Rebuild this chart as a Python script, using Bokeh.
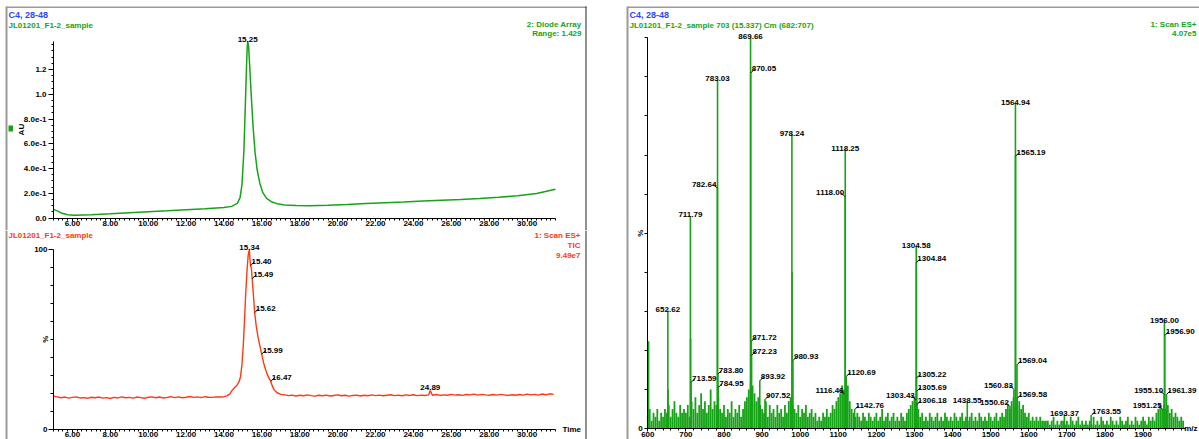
import numpy as np
from bokeh.plotting import figure
from bokeh.layouts import row, column
from bokeh.models import (Range1d, FixedTicker, NumeralTickFormatter, Label,
                          BoxAnnotation)
from bokeh.core.properties import value
from bokeh.embed import file_html
from bokeh.resources import INLINE

# ------------------------------------------------------------------ data
# Diode-array trace (AU), sample JL01201_F1-2
uv_time = [5.00, 5.20, 5.45, 5.75, 6.10, 7.00, 8.00, 9.00, 10.00, 11.00, 12.00,
           13.00, 14.00, 14.40, 14.70, 14.85, 14.95, 15.05, 15.12, 15.18, 15.22,
           15.25, 15.30, 15.37, 15.45, 15.54, 15.64, 15.75, 15.90, 16.05, 16.25,
           16.50, 16.80, 17.20, 17.80, 18.50, 19.50, 20.50, 21.50, 22.50, 23.50,
           24.50, 25.50, 26.50, 27.50, 28.50, 29.50, 30.50, 31.50]
uv_au = [0.070, 0.058, 0.038, 0.026, 0.022, 0.027, 0.034, 0.043, 0.051, 0.058, 0.066,
         0.074, 0.084, 0.094, 0.118, 0.165, 0.270, 0.540, 0.880, 1.180, 1.360,
         1.429, 1.385, 1.190, 0.960, 0.730, 0.530, 0.390, 0.275, 0.205, 0.158,
         0.132, 0.116, 0.106, 0.101, 0.100, 0.104, 0.110, 0.117, 0.124, 0.130,
         0.137, 0.144, 0.150, 0.158, 0.167, 0.180, 0.198, 0.232]
uv_range = 1.429
uv_tick_values = [0.0, 0.2, 0.4, 0.6, 0.8, 1.0, 1.2]
uv_tick_labels = ["0.0", "2.0e-1", "4.0e-1", "6.0e-1", "8.0e-1", "1.0", "1.2"]

# Total ion current (% of 9.49e7), ES+ scan
tic_scan_start = 5.0
tic_scan_step = 0.2
tic_pre = [18.3, 17.9, 17.4, 17.8, 17.2, 17.6, 17.9, 17.3, 17.5, 17.1,
           17.7, 17.4, 17.8, 17.2, 17.5, 17.0, 17.6, 17.3, 17.9, 17.4,
           17.6, 17.2, 17.8, 17.5, 17.1, 17.7, 17.9, 17.4, 17.8, 17.3,
           17.6, 18.0, 17.5, 17.9, 17.4, 17.7, 18.1, 17.6, 17.9, 17.5,
           18.0, 17.7, 17.6, 17.9, 17.8]
tic_peak_time = [14.00, 14.15, 14.30, 14.43, 14.55, 14.70, 14.80, 14.87, 14.95,
                 15.02, 15.08, 15.15, 15.22, 15.28, 15.34, 15.37, 15.40, 15.44,
                 15.49, 15.55, 15.62, 15.70, 15.80, 15.90, 15.99, 16.10, 16.20,
                 16.30, 16.40, 16.47, 16.55, 16.65, 16.80, 17.00]
tic_peak_pct = [18.0, 18.5, 19.4, 21.5, 23.0, 24.5, 26.5, 29.0, 36.0,
                47.0, 60.0, 76.0, 89.0, 97.0, 100.0, 95.0, 91.0, 90.0,
                83.7, 75.0, 64.8, 57.5, 51.0, 46.0, 41.7, 36.5, 33.0,
                30.0, 27.8, 26.5, 24.0, 21.8, 20.2, 19.3]
tic_post_start = 17.2
tic_post = [19.0, 18.6, 18.9, 18.4, 18.8, 18.5, 19.0, 18.6, 18.3, 18.8,
            18.5, 18.9, 18.4, 18.7, 19.0, 18.5, 18.8, 18.3, 18.7, 18.9,
            18.4, 18.8, 18.5, 19.0, 18.6, 18.9, 18.5, 18.8, 19.1, 18.6,
            18.9, 18.5, 19.0, 18.7, 19.1, 18.6, 18.9, 18.7, 19.0, 18.8,
            19.2, 18.7, 19.0, 18.8, 19.3, 18.9, 19.1, 18.7, 19.2, 19.0,
            19.4, 18.9, 19.3, 19.0, 18.8, 19.2, 18.9, 19.3, 19.0, 18.7,
            19.1, 18.8, 19.2, 18.9, 19.4, 19.0, 19.3, 18.9, 19.5, 19.1,
            19.6, 19.3]
tic_spike_time = [24.89]
tic_spike_pct = [21.5]
tic_top_labels = [15.34, 24.89]
tic_side_labels = [15.40, 15.49, 15.62, 15.99, 16.47]

time_ticks = [6, 8, 10, 12, 14, 16, 18, 20, 22, 24, 26, 28, 30]

# Combined mass spectrum, scans 682:707 (% of 4.07e5)
ms_noise_start = 600
ms_noise_step = 5
ms_noise = [3, 5, 2, 4, 3, 5, 2, 4, 3, 5,
            4, 6, 3, 5, 7, 4, 3, 6, 4, 5,
            4, 6, 3, 7, 5, 8, 4, 6, 9, 5,
            7, 4, 6, 10, 5, 7, 6, 8, 5, 4,
            6, 3, 5, 4, 7, 3, 5, 4, 6, 3,
            5, 7, 8, 10, 12, 11, 9, 7, 8, 6,
            5, 4, 7, 3, 6, 4, 5, 3, 6, 4,
            5, 3, 6, 4, 7, 8, 6, 5, 4, 6,
            3, 5, 4, 6, 3, 4, 5, 3, 4, 2,
            3, 2, 4, 3, 5, 3, 4, 6, 5, 7,
            8, 9, 11, 10, 9, 11, 7, 5, 4, 3,
            4, 3, 2, 4, 3, 2, 4, 3, 2, 3,
            4, 2, 3, 5, 2, 3, 4, 2, 3, 4,
            2, 3, 2, 4, 3, 2, 4, 5, 6, 7,
            8, 7, 5, 3, 4, 2, 3, 2, 4, 3,
            2, 3, 4, 2, 3, 2, 4, 3, 2, 3,
            2, 4, 3, 2, 3, 4, 2, 3, 2, 3,
            4, 2, 3, 2, 4, 3, 2, 3, 2, 4,
            3, 2, 3, 4, 2, 3, 4, 3, 5, 6,
            5, 7, 8, 7, 6, 7, 5, 6, 4, 3,
            4, 2, 3, 2, 3, 2, 3, 2, 2, 2,
            2, 1, 2, 3, 1, 2, 1, 2, 2, 1,
            2, 1, 3, 2, 1, 2, 3, 1, 2, 1,
            2, 1, 2, 1, 3, 1, 2, 1, 3, 2,
            1, 2, 1, 3, 2, 1, 2, 1, 3, 2,
            1, 2, 3, 1, 2, 1, 3, 2, 1, 2,
            3, 2, 1, 3, 2, 3, 2, 4, 5, 6,
            5, 6, 5, 6, 4, 5, 3, 4, 3, 2,
            3, 2]
ms_iso_mz = [602.0, 653.1, 712.3, 978.74]
ms_iso_pct = [22.3, 10.0, 23.0, 40.0]
ms_top_mz = [652.62, 711.79, 783.03, 869.66, 978.24, 1118.25, 1304.58,
             1564.94, 1956.00, 1438.55, 1693.37]
ms_top_pct = [30.2, 54.4, 89.2, 100.0, 75.3, 71.5, 46.5, 83.2, 27.4, 6.9, 3.6]
ms_right_mz = [870.05, 871.72, 872.23, 893.92, 907.52, 783.80, 784.95, 713.59,
               980.93, 1120.69, 1142.76, 1304.84, 1305.22, 1305.69, 1306.18,
               1565.19, 1569.04, 1569.58, 1763.55, 1956.90, 1961.39]
ms_right_pct = [91.0, 22.3, 18.7, 12.2, 7.4, 13.9, 10.5, 11.8,
                17.4, 13.3, 4.8, 42.4, 12.9, 9.5, 6.1,
                69.7, 16.3, 7.7, 3.3, 23.8, 8.7]
ms_left_mz = [782.64, 1118.00, 1116.46, 1303.43, 1560.83, 1550.62, 1955.10, 1951.25]
ms_left_pct = [61.5, 59.3, 8.8, 7.4, 10.0, 5.6, 8.7, 4.9]
mz_ticks = [600, 700, 800, 900, 1000, 1100, 1200, 1300, 1400, 1500, 1600,
            1700, 1800, 1900]

# ------------------------------------------------------------------ style
FONT = "Liberation Sans"
GREEN = "#17a317"
RED = "#ff3a12"
BLUE = "#2a48ff"
PANEL_GREY = "#9a9a9a"
TXT = dict(text_font=value(FONT), text_font_size="8px", text_font_style="bold",
           text_color="black")

# page geometry (pixels); each figure's frame fills its whole canvas and the
# axes are pinned inside it with fixed_location
LEFT_W, UV_H, TIC_H = 590, 230, 209
MS_W, MS_H = 609, 439
TIME_AXIS = (5.0, 31.5)
MZ_AXIS = (600, 2010)


class Geo:
    """Page pixel -> screen units of a figure whose frame is its canvas."""
    def __init__(self, x0, y0, h):
        self.x0, self.y0, self.h = x0, y0, h

    def sx(self, X):
        return X - self.x0

    def sy(self, Y):
        return self.y0 + self.h - Y


def span_range(v0, v1, p0, p1, size):
    """Range over a full canvas side so that v0 lands at pixel p0, v1 at p1."""
    k = (v1 - v0) / (p1 - p0)
    return Range1d(v0 - p0 * k, v0 + (size - p0) * k)


def make_fig(width, height, x_range, y_range):
    p = figure(width=width, height=height, x_range=x_range, y_range=y_range,
               min_border_left=0, min_border_right=0, min_border_top=0,
               min_border_bottom=0, toolbar_location=None, output_backend="svg")
    p.title.visible = False
    p.outline_line_color = None
    p.grid.visible = False
    p.background_fill_color = "white"
    p.border_fill_color = "white"
    for ax in p.axis:
        ax.axis_line_color = "black"
        ax.axis_line_width = 1
        ax.major_tick_line_color = "black"
        ax.minor_tick_line_color = "black"
        ax.major_tick_in = 0
        ax.minor_tick_in = 0
        ax.major_tick_out = 3
        ax.minor_tick_out = 2
        ax.major_label_text_font = FONT
        ax.major_label_text_font_size = "8px"
        ax.major_label_text_font_style = "bold"
        ax.major_label_text_color = "black"
    p.xaxis.major_label_standoff = 0
    return p


def note(p, x, y, text, color="black", size="8px", align="left",
         baseline="middle", angle=0.0, x_units="screen", y_units="screen"):
    p.add_layout(Label(x=x, y=y, x_units=x_units, y_units=y_units, text=text,
                       text_color=color, text_font=FONT, text_font_size=size,
                       text_font_style="bold", text_align=align,
                       text_baseline=baseline, angle=angle))


def rule(p, geo, X0, X1, Y0, Y1, color):
    p.add_layout(BoxAnnotation(left=geo.sx(X0), right=geo.sx(X1),
                               top=geo.sy(Y0), bottom=geo.sy(Y1),
                               left_units="screen", right_units="screen",
                               top_units="screen", bottom_units="screen",
                               fill_color=color, fill_alpha=1.0,
                               line_alpha=0.0))


def callouts(p, xs, ys, side, dx, dy, offset=-1):
    labels = [f"{v:.2f}" for v in xs]
    if side == "top":
        p.text(x=xs, y=ys, text=labels, text_align="center",
               text_baseline="alphabetic", y_offset=offset, **TXT)
        return
    sgn = 1 if side == "right" else -1
    x1 = [x + sgn * dx for x in xs]
    y1 = [y + dy for y in ys]
    p.segment(x0=xs, y0=ys, x1=x1, y1=y1, line_color="black", line_width=1)
    p.text(x=xs, y=y1, text=labels, text_align="left" if sgn > 0 else "right",
           text_baseline="alphabetic", x_offset=sgn * 1, **TXT)


time_minor = list(np.arange(TIME_AXIS[0], TIME_AXIS[1] + 0.001, 0.25))
T_X0, T_X1 = 53.0, 555.0              # pixel span of the time axis
time_px = (TIME_AXIS[1] - TIME_AXIS[0]) / (T_X1 - T_X0)

# ------------------------------------------------------------ UV panel
UV_Y0, UV_Y1 = 217.5, 40.7             # pixel rows of 0 AU and full range
uv_geo = Geo(0, 0, UV_H)
p_uv = make_fig(LEFT_W, UV_H,
                span_range(TIME_AXIS[0], TIME_AXIS[1], T_X0, T_X1, LEFT_W),
                span_range(0, uv_range, UV_H - UV_Y0, UV_H - UV_Y1, UV_H))
p_uv.xaxis.fixed_location = 0
p_uv.xaxis.bounds = TIME_AXIS
p_uv.yaxis.fixed_location = TIME_AXIS[0]
p_uv.yaxis.bounds = (0, uv_range)
p_uv.xaxis.ticker = FixedTicker(ticks=time_ticks, minor_ticks=time_minor)
p_uv.xaxis.formatter = NumeralTickFormatter(format="0.00")
p_uv.yaxis.ticker = FixedTicker(ticks=uv_tick_values,
                                minor_ticks=list(np.arange(0, uv_range, 0.05)))
p_uv.yaxis.major_label_overrides = dict(zip(uv_tick_values, uv_tick_labels))
p_uv.yaxis.major_tick_out = 5
p_uv.yaxis.major_label_standoff = 2
p_uv.line(uv_time, uv_au, line_color=GREEN, line_width=1.5)
ipk = int(np.argmax(uv_au))
callouts(p_uv, [uv_time[ipk]], [uv_au[ipk]], "top", 0, 0, offset=-2)

note(p_uv, uv_geo.sx(8), uv_geo.sy(14), "C4, 28-48", BLUE, size="9px")
note(p_uv, uv_geo.sx(8), uv_geo.sy(25), "JL01201_F1-2_sample", GREEN)
note(p_uv, uv_geo.sx(581), uv_geo.sy(24), "2: Diode Array", GREEN, align="right")
note(p_uv, uv_geo.sx(581), uv_geo.sy(33), f"Range: {uv_range}", GREEN, align="right")
note(p_uv, uv_geo.sx(21), uv_range / 2, "AU", angle=np.pi / 2, align="center",
     y_units="data")
rule(p_uv, uv_geo, 8, 12.5, 125, 131, GREEN)
rule(p_uv, uv_geo, 6, 586, 6, 7.5, PANEL_GREY)
rule(p_uv, uv_geo, 5, 7, 6, UV_H, PANEL_GREY)
rule(p_uv, uv_geo, 585, 586, 6, UV_H, "#222222")

# ------------------------------------------------------------ TIC panel
tic_t = ([tic_scan_start + tic_scan_step * i for i in range(len(tic_pre))]
         + tic_peak_time
         + [tic_post_start + tic_scan_step * i for i in range(len(tic_post))]
         + tic_spike_time)
tic_v = tic_pre + tic_peak_pct + tic_post + tic_spike_pct
order = np.argsort(tic_t)
tic_t = [float(tic_t[i]) for i in order]
tic_v = [float(tic_v[i]) for i in order]


def tic_at(t):
    return tic_v[int(np.argmin([abs(s - t) for s in tic_t]))]


TIC_Y0, TIC_Y1 = 428.5 - UV_H, 249.0 - UV_H   # rows of 0 % and 100 % (local)
tic_geo = Geo(0, UV_H, TIC_H)
p_tic = make_fig(LEFT_W, TIC_H,
                 span_range(TIME_AXIS[0], TIME_AXIS[1], T_X0, T_X1, LEFT_W),
                 span_range(0, 100, TIC_H - TIC_Y0, TIC_H - TIC_Y1, TIC_H))
p_tic.xaxis.fixed_location = 0
p_tic.xaxis.bounds = TIME_AXIS
p_tic.yaxis.fixed_location = TIME_AXIS[0]
p_tic.yaxis.bounds = (0, 100)
p_tic.xaxis.ticker = FixedTicker(ticks=time_ticks, minor_ticks=time_minor)
p_tic.xaxis.formatter = NumeralTickFormatter(format="0.00")
p_tic.yaxis.ticker = FixedTicker(ticks=[0, 100],
                                 minor_ticks=[10, 20, 30, 40, 50, 60, 70, 80, 90])
p_tic.yaxis.major_tick_out = 5
p_tic.yaxis.minor_tick_out = 3
p_tic.yaxis.major_label_standoff = 1
p_tic.line(tic_t, tic_v, line_color=RED, line_width=1.4)

pct_px = 100.0 / (TIC_Y0 - TIC_Y1)
callouts(p_tic, tic_top_labels[:1], [tic_at(tic_top_labels[0])], "top", 0, 0, offset=-2)
callouts(p_tic, tic_top_labels[1:], [tic_at(tic_top_labels[1])], "top", 0, 0, offset=-3)
callouts(p_tic, tic_side_labels, [tic_at(t) for t in tic_side_labels], "right",
         4 * time_px, 4 * pct_px)

note(p_tic, tic_geo.sx(8), tic_geo.sy(235), "JL01201_F1-2_sample", RED)
note(p_tic, tic_geo.sx(580), tic_geo.sy(235), "1: Scan ES+", RED, align="right")
note(p_tic, tic_geo.sx(580), tic_geo.sy(245), "TIC", RED, align="right")
note(p_tic, tic_geo.sx(580), tic_geo.sy(254.5), "9.49e7", RED, align="right")
note(p_tic, tic_geo.sx(45), 50, "%", angle=np.pi / 2, align="center", y_units="data")
note(p_tic, tic_geo.sx(562), 0, "Time", y_units="data")
rule(p_tic, tic_geo, 5, 7, UV_H, UV_H + TIC_H, PANEL_GREY)
rule(p_tic, tic_geo, 585, 586, UV_H, UV_H + TIC_H, "#222222")

# ------------------------------------------------------------ MS panel
MZ_X0, MZ_X1 = 647.3 - LEFT_W, 1142.6 - LEFT_W   # pixel columns of 600 and 1900
MS_Y0, MS_Y1 = 428.0, 37.3                        # rows of 0 % and 100 %
ms_geo = Geo(LEFT_W, 0, MS_H)
p_ms = make_fig(MS_W, MS_H,
                span_range(600, 1900, MZ_X0, MZ_X1, MS_W),
                span_range(0, 100, MS_H - MS_Y0, MS_H - MS_Y1, MS_H))
p_ms.xaxis.fixed_location = 0
p_ms.xaxis.bounds = MZ_AXIS
p_ms.yaxis.fixed_location = MZ_AXIS[0]
p_ms.yaxis.bounds = (0, 100)
p_ms.xaxis.ticker = FixedTicker(ticks=mz_ticks,
                                minor_ticks=list(range(600, 2011, 20)))
p_ms.yaxis.ticker = FixedTicker(ticks=[0],
                                minor_ticks=[10, 20, 30, 40, 50, 60, 70, 80, 90, 100])
p_ms.yaxis.minor_tick_out = 3
p_ms.yaxis.major_label_standoff = 2

noise_mz = [ms_noise_start + ms_noise_step * i for i in range(len(ms_noise))]
p_ms.segment(x0=noise_mz, y0=0, x1=noise_mz, y1=ms_noise, line_color=GREEN,
             line_width=1.8)
stick_mz = ms_iso_mz + ms_left_mz + ms_right_mz + ms_top_mz
stick_pct = ms_iso_pct + ms_left_pct + ms_right_pct + ms_top_pct
p_ms.segment(x0=stick_mz, y0=0, x1=stick_mz, y1=stick_pct, line_color=GREEN,
             line_width=1.6)

mz_px = 1300.0 / (MZ_X1 - MZ_X0)
ms_pct_px = 100.0 / (MS_Y0 - MS_Y1)
callouts(p_ms, ms_top_mz, ms_top_pct, "top", 0, 0, offset=-1)
callouts(p_ms, ms_right_mz, ms_right_pct, "right", 4 * mz_px, 4 * ms_pct_px)
callouts(p_ms, ms_left_mz, ms_left_pct, "left", 4 * mz_px, 4 * ms_pct_px)

note(p_ms, ms_geo.sx(629), ms_geo.sy(14), "C4, 28-48", BLUE, size="9px")
note(p_ms, ms_geo.sx(629), ms_geo.sy(25),
     "JL01201_F1-2_sample 703 (15.337) Cm (682:707)", GREEN)
note(p_ms, ms_geo.sx(1196), ms_geo.sy(24), "1: Scan ES+", GREEN, align="right")
note(p_ms, ms_geo.sx(1196), ms_geo.sy(33), "4.07e5", GREEN, align="right")
note(p_ms, ms_geo.sx(640), 50, "%", angle=np.pi / 2, align="center", y_units="data")
note(p_ms, ms_geo.sx(1197), 0, "m/z", align="right", y_units="data")
rule(p_ms, ms_geo, 627, 1199, 6, 7.5, PANEL_GREY)
rule(p_ms, ms_geo, 626, 628, 6, MS_H, PANEL_GREY)

layout = row(column(p_uv, p_tic), p_ms)
open("out.html", "w").write(file_html(layout, INLINE))
